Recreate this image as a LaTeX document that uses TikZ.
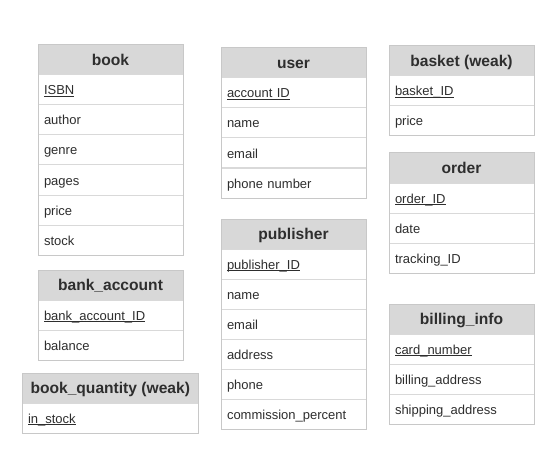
\documentclass[tikz,border=0pt]{standalone}
\usepackage{fontspec}
\setmainfont{Liberation Sans}
\definecolor{hdrgray}{HTML}{D8D8D8}
\definecolor{bordergray}{HTML}{C8C8C8}
\definecolor{rowgray}{HTML}{D9D9D9}
\definecolor{txt}{HTML}{2E2E2E}
\newcommand\keyattr[1]{{\setbox0\hbox{#1}\rlap{\raisebox{-2.4pt}{\rule{\wd0}{1.1pt}}}\box0}}
\begin{document}
\begin{tikzpicture}[x=1pt,y=-1pt,
  hdr/.style={draw=bordergray, fill=hdrgray, line width=1pt, minimum width=#1,
    minimum height=30pt, inner sep=0pt, outer sep=0pt, text=txt,
    text height=12.5pt, text depth=1.5pt,
    font=\fontsize{15.6}{18}\selectfont\bfseries, anchor=north west},
  attr/.style={draw=rowgray, fill=white, line width=1pt, text width=#1,
    minimum height=30pt, inner xsep=6pt, inner ysep=0pt, outer sep=0pt, text=txt,
    text height=12pt, text depth=2pt,
    font=\fontsize{13}{15}\selectfont, anchor=north, align=left},
  frame/.style={draw=bordergray, line width=1pt}]
\useasboundingbox (0,0) rectangle (556,465);

% book
\node[hdr=145pt] (bk) at (38,45) {book};
\node[attr=133pt] (bk1) at (bk.south) {\keyattr{ISBN}};
\node[attr=133pt] (bk2) at (bk1.south) {author};
\node[attr=133pt] (bk3) at (bk2.south) {genre};
\node[attr=133pt] (bk4) at (bk3.south) {pages};
\node[attr=133pt] (bk5) at (bk4.south) {price};
\node[attr=133pt] (bk6) at (bk5.south) {stock};
\draw[frame] (bk.north west) rectangle (bk6.south east);

% user
\node[hdr=145pt] (us) at (221,48) {user};
\node[attr=133pt] (us1) at (us.south) {\keyattr{account ID}};
\node[attr=133pt] (us2) at (us1.south) {name};
\node[attr=133pt] (us3) at (us2.south) {email};
\node[attr=133pt] (us4) at (us3.south) {phone number};
\draw[frame] (us.north west) rectangle (us4.south east);

% basket
\node[hdr=145pt] (ba) at (389,46) {basket (weak)};
\node[attr=133pt] (ba1) at (ba.south) {\keyattr{basket\_ID}};
\node[attr=133pt] (ba2) at (ba1.south) {price};
\draw[frame] (ba.north west) rectangle (ba2.south east);

% order
\node[hdr=145pt] (or) at (389,153) {order};
\node[attr=133pt] (or1) at (or.south) {\keyattr{order\_ID}};
\node[attr=133pt] (or2) at (or1.south) {date};
\node[attr=133pt] (or3) at (or2.south) {tracking\_ID};
\draw[frame] (or.north west) rectangle (or3.south east);

% publisher
\node[hdr=145pt] (pu) at (221,219) {publisher};
\node[attr=133pt] (pu1) at (pu.south) {\keyattr{publisher\_ID}};
\node[attr=133pt] (pu2) at (pu1.south) {name};
\node[attr=133pt] (pu3) at (pu2.south) {email};
\node[attr=133pt] (pu4) at (pu3.south) {address};
\node[attr=133pt] (pu5) at (pu4.south) {phone};
\node[attr=133pt] (pu6) at (pu5.south) {commission\_percent};
\draw[frame] (pu.north west) rectangle (pu6.south east);

% bank_account
\node[hdr=145pt] (bn) at (38,270) {bank\_account};
\node[attr=133pt] (bn1) at (bn.south) {\keyattr{bank\_account\_ID}};
\node[attr=133pt] (bn2) at (bn1.south) {balance};
\draw[frame] (bn.north west) rectangle (bn2.south east);

% book_quantity
\node[hdr=176.5pt] (bq) at (22,373) {book\_quantity (weak)};
\node[attr=164.5pt] (bq1) at (bq.south) {\keyattr{in\_stock}};
\draw[frame] (bq.north west) rectangle (bq1.south east);

% billing_info
\node[hdr=145pt] (bi) at (389,304) {billing\_info};
\node[attr=133pt] (bi1) at (bi.south) {\keyattr{card\_number}};
\node[attr=133pt] (bi2) at (bi1.south) {billing\_address};
\node[attr=133pt] (bi3) at (bi2.south) {shipping\_address};
\draw[frame] (bi.north west) rectangle (bi3.south east);
\end{tikzpicture}
\end{document}
